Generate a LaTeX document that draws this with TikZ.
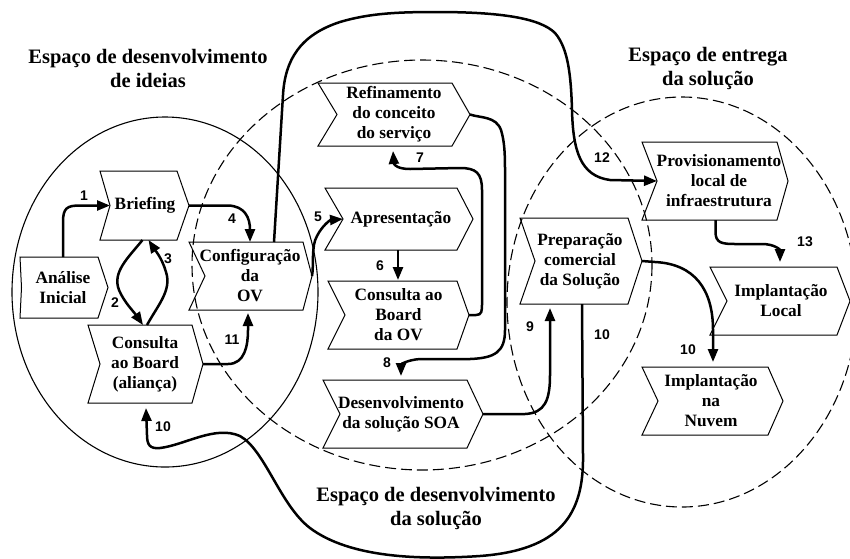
\documentclass[tikz,border=0pt]{standalone}
\usepackage{fontspec}
\setmainfont{Liberation Serif}
\newfontfamily\labelfont{Liberation Sans}
\usetikzlibrary{arrows.meta,calc}

\tikzset{
  zone/.style={line width=1.1pt},
  zonedash/.style={line width=1.1pt, dash pattern=on 11pt off 5pt},
  stagebox/.style={rectangle, inner sep=0pt, outer sep=0pt},
  stageline/.style={line width=1pt, line join=miter},
  stagetext/.style={font=\fontsize{17.3}{20}\selectfont\bfseries, align=center, inner sep=0pt},
  flow/.style={line width=2.5pt, -{Triangle[length=13pt,width=10pt]}},
  steplabel/.style={font=\labelfont\fontsize{14}{14}\selectfont\bfseries, inner sep=0pt},
  spacetitle/.style={font=\fontsize{20.5}{24}\selectfont\bfseries, align=center, inner sep=0pt},
}

% chevron stage: name, cx, cy, width, height, notch depth, tip depth, text x, text
\newcommand\stagenode[9]{%
  \node[stagebox, minimum width=#4pt, minimum height=#5pt] (#1) at (#2,#3) {};
  \draw[stageline] (#1.north west) -- (#1.north east) -- ($(#1.east)+(#7,0)$)
    -- (#1.south east) -- (#1.south west) -- ($(#1.west)+(#6,0)$) -- cycle;
  \node[stagetext] (#1-txt) at (#8,#3) {#9};
}

\begin{document}
\begin{tikzpicture}[x=1pt,y=-1pt]
\path[use as bounding box] (0,0) rectangle (850,558);
\fill[white] (0,0) rectangle (850,558);
\clip (0,0) rectangle (850,558);

% the three spaces
\draw[zone] (165,292) ellipse [x radius=153, y radius=175];
\draw[zonedash] (422,265) ellipse [x radius=230, y radius=205];
\draw[zonedash] (682,302) ellipse [x radius=175, y radius=205];

% titles of the spaces
\node[spacetitle] (t-ideias) at (148,68) {Espaço de desenvolvimento\\de ideias};
\node[spacetitle] (t-solucao) at (436,508) {Espaço de desenvolvimento\\da solução};
\node[spacetitle] (t-entrega) at (708,68) {Espaço de entrega\\da solução};

% stages
\stagenode{ana}{59}{287.5}{78}{61}{1.5}{10}{63}{Análise\\Inicial}
\stagenode{brief}{138.5}{205.5}{77}{69}{10}{12}{145}{Briefing}
\stagenode{cba}{140}{364}{104}{78}{12}{11}{145}{Consulta\\ao Board\\(aliança)}
\stagenode{conf}{246}{276}{114}{68}{16}{9}{250}{Configuração\\da\\OV}
\stagenode{ref}{385}{114.5}{134}{63}{19}{18}{394}{Refinamento\\do conceito\\do serviço}
\stagenode{apr}{391}{219}{132}{62}{18}{16}{401}{Apresentação}
\stagenode{cbo}{392.5}{315}{129}{68}{17}{12}{398.5}{Consulta ao\\Board\\da OV}
\stagenode{dev}{395}{414}{144}{68}{17}{16}{401}{Desenvolvimento\\da solução SOA}
\stagenode{prep}{574}{261}{108}{86}{15}{14}{580}{Preparação\\comercial\\da Solução}
\stagenode{prov}{709.5}{181}{135}{78}{15}{11}{719}{Provisionamento\\local de\\infraestrutura}
\stagenode{iloc}{773.5}{301}{127}{68}{17}{13}{781}{Implantação\\Local}
\stagenode{inuv}{705}{401}{126}{68}{16}{15}{711}{Implantação\\na\\Nuvem}

% flows
% 1
\draw[flow] ($(ana.north)+(4,0)$) -- (63,222) .. controls (63,208) and (67,205.5) .. (80,205.5)
  -- ($(brief.west)+(10,0)$);
% 2
\draw[flow] ($(brief.south)+(4,0)$) .. controls (128,258) and (112,272) .. (119,290)
  .. controls (124,302) and (134,312) .. ($(cba.north)+(3,0)$);
% 3
\draw[flow] ($(cba.north)+(7,0)$) .. controls (158,305) and (172,290) .. (166,272)
  .. controls (162,258) and (155,250) .. ($(brief.south)+(10,0)$);
% 4
\draw[flow] ($(brief.east)+(12,0)$) -- (228,205.5) .. controls (245,206) and (250,218) .. ($(conf.north)+(4,0)$);
% 5
\draw[flow] ($(conf.east)+(9,0)$) .. controls (314,265) and (311,246) .. (317,236)
  .. controls (322,226) and (330,220) .. ($(apr.west)+(18,0)$);
% 6
\draw[flow] ($(apr.south)+(7,0)$) -- ($(cbo.north)+(5.5,-1)$);
% 7
\draw[flow] ($(cbo.east)+(12,0)$) -- (476,315) .. controls (482,315) and (482,311) .. (482,303)
  -- (482,190) .. controls (482,173) and (476,168) .. (460,168) -- (410,169)
  .. controls (398,169) and (394,165) .. ($(ref.south)+(8,5)$);
% 8
\draw[flow] ($(ref.east)+(18,0)$) .. controls (480,118) and (496,116) .. (501,130)
  .. controls (504,140) and (505,150) .. (505,170) -- (505,330)
  .. controls (505,352) and (495,358) .. (470,359) -- (420,359)
  .. controls (406,360) and (401,365) .. ($(dev.north)+(6,-4)$);
% 9
\draw[flow] ($(dev.east)+(16,0)$) -- (525,414) .. controls (545,413) and (550,400) .. (550,375)
  -- ($(prep.south)+(-24,4)$);
% 10, back to the alliance board
\draw[flow] ($(prep.south)+(8,0)$) -- (583,455)
  .. controls (584,515) and (560,550) .. (480,556)
  .. controls (420,560) and (350,558) .. (310,528)
  .. controls (280,505) and (265,450) .. (240,436)
  .. controls (215,425) and (185,445) .. (160,448)
  .. controls (150,449) and (147,445) .. (147,435)
  -- ($(cba.south)+(6,5)$);
% 10, cloud deployment
\draw[flow] ($(prep.east)+(14,0)$) -- (655,262) .. controls (695,264) and (713,290) .. (713,330)
  -- ($(inuv.north)+(8,-5)$);
% 11
\draw[flow] ($(cba.east)+(11,0)$) -- (228,364) .. controls (245,364) and (248,345) .. (248,330)
  -- ($(conf.south)+(2,3)$);
% 12
\draw[flow] ($(conf.north)+(28,0)$) -- (283,95) .. controls (285,60) and (300,35) .. (340,22)
  .. controls (370,13) and (400,12) .. (437,12)
  .. controls (500,12) and (540,18) .. (555,33)
  .. controls (568,48) and (571,75) .. (572,110)
  .. controls (573,150) and (580,176) .. (610,180)
  -- ($(prov.west)+(15,0)$);
% 13
\draw[flow] ($(prov.south)+(6,0)$) -- (715.5,232) .. controls (715.5,243) and (722,244) .. (735,244)
  -- (762,244) .. controls (775,244) and (780,250) .. ($(iloc.north)+(6.5,-5)$);

% step numbers
\node[steplabel] (n1) at (84,196) {1};
\node[steplabel] (n2) at (115,303) {2};
\node[steplabel] (n3) at (168,259) {3};
\node[steplabel] (n4) at (232,219) {4};
\node[steplabel] (n5) at (318,217) {5};
\node[steplabel] (n6) at (380,266) {6};
\node[steplabel] (n7) at (420,158) {7};
\node[steplabel] (n8) at (387,363) {8};
\node[steplabel] (n9) at (530,327) {9};
\node[steplabel] (n10a) at (163,427) {10};
\node[steplabel] (n10b) at (602,335) {10};
\node[steplabel] (n10c) at (688,350) {10};
\node[steplabel] (n11) at (232,340) {11};
\node[steplabel] (n12) at (602,158) {12};
\node[steplabel] (n13) at (805,242) {13};
\end{tikzpicture}
\end{document}
